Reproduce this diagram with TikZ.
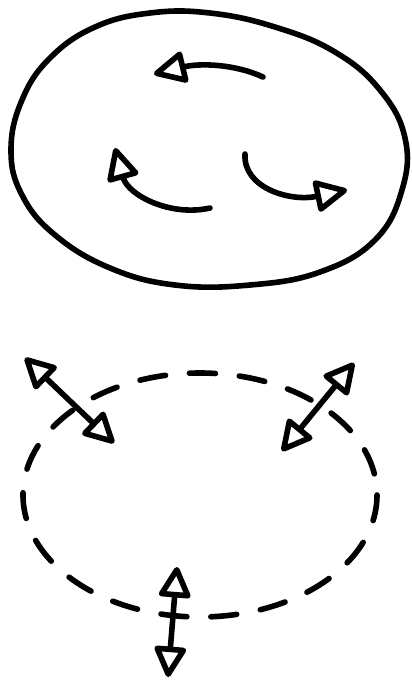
\documentclass[tikz,border=0pt]{standalone}
\usetikzlibrary{arrows.meta}

\begin{document}
\begin{tikzpicture}[x=0.5pt,y=-0.5pt,line width=2.8pt,line cap=round,line join=round,
    headtip/.style={-{Triangle[open,length=18pt,width=17pt,round]}},
    bothtips/.style={{Triangle[open,length=17pt,width=17pt,round]}-{Triangle[open,length=17pt,width=17pt,round]}},
    brokenline/.style={dash pattern=on 13pt off 12pt}]
    \useasboundingbox (0,0) rectangle (412,682);

    % closed body with motion inside
    \coordinate (topstart) at (263,77);
    \coordinate (topend) at (154,74);
    \coordinate (leftstart) at (210,208);
    \coordinate (leftend) at (115,148);
    \coordinate (rightstart) at (245,154);
    \coordinate (rightend) at (347,190);

    \draw plot[smooth cycle,tension=0.7] coordinates {(11,150) (22,100) (50,58) (95,27)
        (150,13) (210,13) (275,27) (335,52) (380,90) (405,138) (402,190) (375,240)
        (320,272) (250,285) (175,285) (110,268) (55,235) (22,195)};
    \draw[headtip] (topstart) .. controls (235,64) and (200,63) .. (topend);
    \draw[headtip] (leftstart) .. controls (170,217) and (128,195) .. (leftend);
    \draw[headtip] (rightstart) .. controls (243,188) and (290,202) .. (rightend);

    % open body with exchange across it
    \coordinate (opencenter) at (200,495);
    \coordinate (nwout) at (25,358);
    \coordinate (nwin) at (114,443);
    \coordinate (neout) at (354,363);
    \coordinate (nein) at (282,451);
    \coordinate (sin) at (177,567);
    \coordinate (sout) at (168,677);

    \draw[brokenline] (opencenter) ellipse (177 and 122);
    \draw[bothtips] (nwout) -- (nwin);
    \draw[bothtips] (neout) -- (nein);
    \draw[bothtips] (sin) -- (sout);
\end{tikzpicture}
\end{document}
